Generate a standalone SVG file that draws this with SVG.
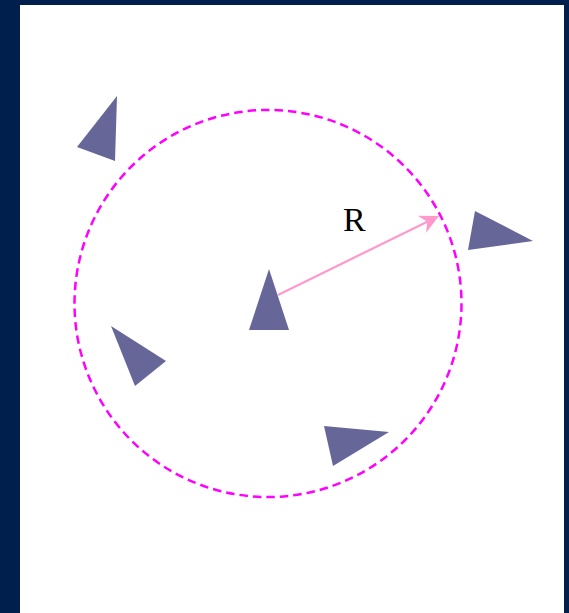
<svg xmlns="http://www.w3.org/2000/svg" width="569" height="613" viewBox="0 0 569 613">
<style>
.tri{fill:#666699;stroke:none}
.orbit{fill:none;stroke:#ff00ff;stroke-width:2.5;stroke-dasharray:8.5 5}
.arrow{fill:none;stroke:#ff99cc;stroke-width:2.2}
.lbl{font-family:"Liberation Serif","Times New Roman",serif;font-size:34px;fill:#000}
</style>
<defs>
<marker id="head" markerUnits="userSpaceOnUse" markerWidth="30" markerHeight="30" refX="0" refY="0" orient="auto" overflow="visible">
<path d="M13,0 L-6,-9.5 L0,0 L-6,9.5 Z" fill="#ff99cc"/>
</marker>
</defs>
<rect x="0" y="0" width="569" height="613" fill="#001f4d"/>
<rect x="20" y="5" width="544" height="608" fill="#ffffff"/>
<g id="range">
<circle class="orbit" cx="268" cy="303.5" r="193.5"/>
</g>
<g id="connectors">
<line class="arrow" x1="278" y1="295" x2="427.3" y2="221.7" marker-end="url(#head)"/>
<text class="lbl" x="343" y="230.5">R</text>
</g>
<g id="agent-center"><polygon class="tri" points="269,269 249,330 289,330"/></g>
<g id="agent-topleft"><polygon class="tri" points="117,96 77,147 115,161"/></g>
<g id="agent-right"><polygon class="tri" points="475,211 468,250 533,241"/></g>
<g id="agent-left"><polygon class="tri" points="111,326 166,361 135,386"/></g>
<g id="agent-bottom"><polygon class="tri" points="324,426 389,432 333,466"/></g>
</svg>
